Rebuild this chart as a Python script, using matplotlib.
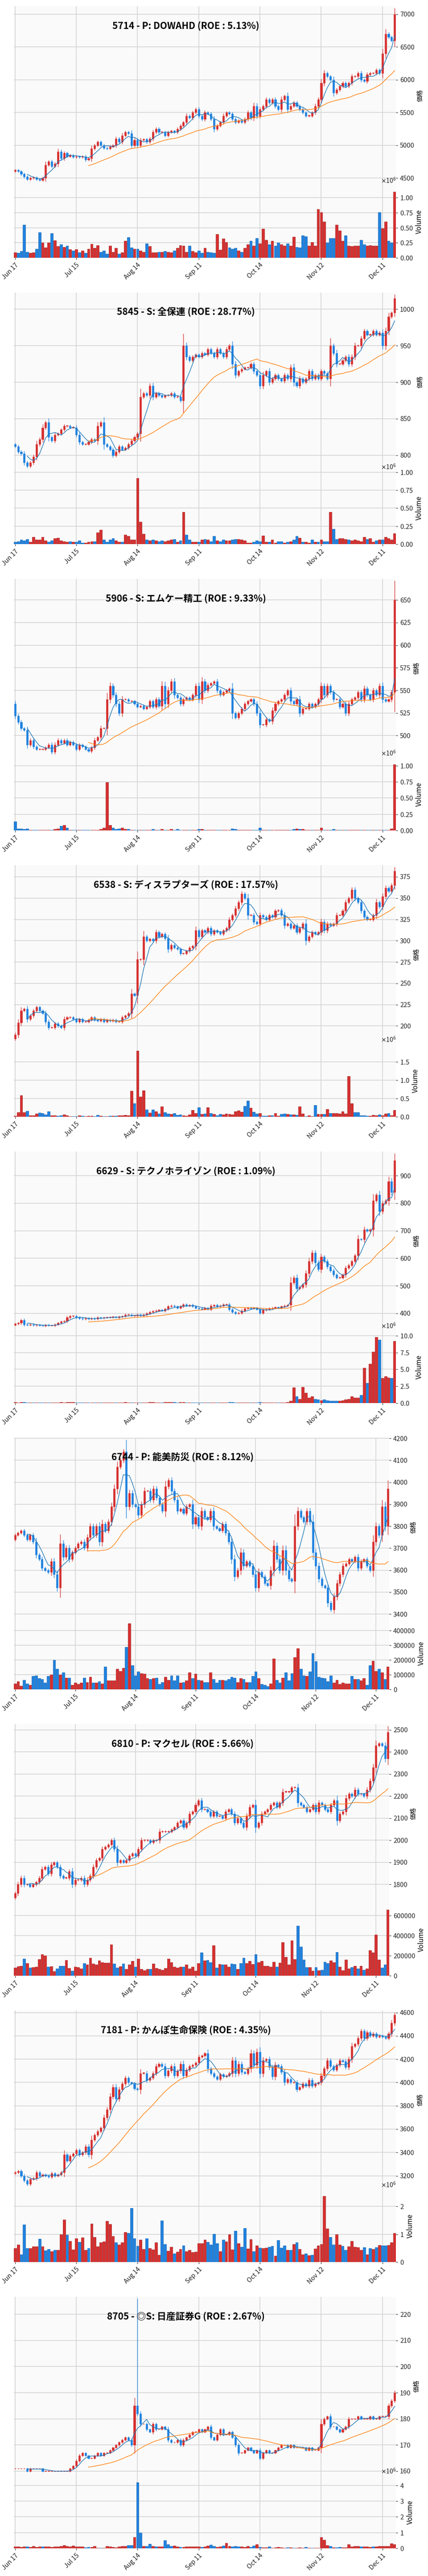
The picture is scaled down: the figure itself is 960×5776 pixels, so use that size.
import matplotlib
matplotlib.use("Agg")
import matplotlib.pyplot as plt
from matplotlib.ticker import ScalarFormatter
import numpy as np

plt.rcParams['font.family'] = ['Noto Sans CJK JP', 'DejaVu Sans']

TICK_POS = [0, 20, 40, 60, 80, 100, 120]
TICK_LABELS = ['Jun 17', 'Jul 15', 'Aug 14', 'Sep 11', 'Oct 14', 'Nov 12', 'Dec 11']

TITLES = [
    '5714 - P: DOWAHD (ROE : 5.13%)',
    '5845 - S: 全保連 (ROE : 28.77%)',
    '5906 - S: エムケー精工 (ROE : 9.33%)',
    '6538 - S: ディスラプターズ (ROE : 17.57%)',
    '6629 - S: テクノホライゾン (ROE : 1.09%)',
    '6744 - P: 能美防災 (ROE : 8.12%)',
    '6810 - P: マクセル (ROE : 5.66%)',
    '7181 - P: かんぽ生命保険 (ROE : 4.35%)',
    '8705 - ◎S: 日産証券G (ROE : 2.67%)',
]
OPEN0 = [4600, 815, 535, 185, 358, 3740, 1740, 3220, 161]
# single long wick seen on 8705 (panel index, day index, high)
SPIKE_PANEL, SPIKE_DAY, SPIKE_HIGH = 8, 40, 226

close_5714 = [4620, 4600, 4560, 4520, 4480, 4500, 4510, 4480, 4470, 4500,
              4700, 4750, 4680, 4720, 4900, 4800, 4880, 4830, 4850, 4820,
              4830, 4820, 4830, 4780, 4800, 4950, 5000, 5050, 5000, 4960,
              4950, 4980, 5000, 5100, 5050, 5150, 5200, 5180, 5000, 5080,
              5000, 5080, 5090, 5050, 5100, 5200, 5250, 5200, 5200, 5150,
              5200, 5220, 5200, 5250, 5300, 5350, 5450, 5420, 5500, 5550,
              5450, 5400, 5500, 5480, 5400, 5250, 5300, 5350, 5450, 5500,
              5480, 5400, 5350, 5380, 5350, 5400, 5500, 5420, 5600, 5450,
              5550, 5600, 5700, 5650, 5700, 5600, 5550, 5700, 5750, 5550,
              5600, 5650, 5600, 5550, 5500, 5450, 5450, 5500, 5600, 5700,
              5950, 6100, 6050, 6000, 5800, 5850, 5900, 5950, 5900, 5950,
              6050, 6050, 6100, 6000, 5980, 6080, 6100, 6100, 6150, 6100,
              6400, 6700, 6650, 6600, 7000]
vol_5714 = [.09, .08, .11, .55, .1, .08, .09, .15, .42, .25,
            .17, .25, .41, .29, .19, .22, .18, .2, .14, .12,
            .14, .09, .12, .08, .15, .23, .16, .21, .1, .12,
            .07, .2, .1, .16, .07, .09, .28, .34, .17, .15,
            .15, .12, .1, .24, .19, .09, .09, .1, .1, .11,
            .1, .09, .12, .16, .21, .2, .1, .2, .11, .09,
            .12, .08, .16, .1, .09, .08, .39, .13, .32, .26,
            .17, .15, .16, .12, .1, .16, .22, .28, .2, .33,
            .24, .48, .3, .22, .28, .2, .25, .22, .2, .24,
            .2, .35, .18, .17, .37, .36, .2, .26, .2, .81,
            .76, .6, .25, .33, .33, .55, .45, .28, .37, .2,
            .19, .2, .2, .3, .22, .2, .21, .2, .2, .76,
            .49, .6, .28, .25, 1.1]

close_5845 = [812, 805, 802, 790, 785, 790, 798, 815, 822, 838,
              845, 825, 820, 828, 830, 835, 840, 840, 838, 838,
              828, 818, 815, 815, 818, 822, 820, 840, 845, 815,
              812, 808, 800, 805, 812, 808, 810, 815, 820, 825,
              830, 880, 885, 882, 895, 880, 885, 882, 880, 882,
              882, 885, 880, 880, 875, 950, 935, 930, 935, 938,
              935, 940, 938, 945, 940, 935, 945, 940, 935, 945,
              950, 925, 910, 915, 918, 920, 920, 925, 915, 910,
              895, 910, 915, 900, 905, 910, 905, 902, 910, 905,
              920, 900, 895, 905, 900, 905, 915, 905, 910, 905,
              915, 912, 905, 950, 940, 925, 925, 930, 935, 925,
              935, 950, 950, 960, 970, 965, 965, 970, 965, 968,
              950, 970, 990, 995, 1015]
vol_5845 = [.03, .04, .06, .05, .07, .03, .1, .06, .06, .1,
            .05, .03, .05, .08, .09, .05, .04, .03, .04, .03,
            .03, .05, .02, .02, .03, .04, .04, .16, .2, .06,
            .03, .06, .08, .05, .03, .03, .13, .11, .06, .06,
            .92, .31, .14, .06, .05, .06, .05, .04, .05, .04,
            .05, .06, .07, .03, .05, .45, .13, .06, .03, .03,
            .03, .06, .07, .06, .04, .11, .05, .04, .06, .05,
            .05, .06, .07, .07, .06, .05, .02, .02, .03, .05,
            .04, .12, .03, .03, .06, .02, .04, .04, .02, .03,
            .04, .06, .11, .09, .03, .03, .02, .06, .03, .03,
            .06, .04, .04, .45, .21, .07, .08, .08, .07, .06,
            .05, .06, .05, .04, .1, .07, .08, .03, .05, .06,
            .06, .1, .08, .06, .15]

close_5906 = [522, 515, 508, 506, 490, 495, 488, 485, 485, 485,
              487, 490, 482, 490, 495, 492, 495, 490, 493, 490,
              485, 490, 488, 485, 483, 487, 495, 498, 508, 508,
              540, 555, 545, 535, 525, 540, 540, 538, 538, 535,
              532, 533, 530, 532, 538, 532, 540, 533, 555, 535,
              550, 560, 545, 542, 535, 540, 542, 540, 545, 555,
              540, 560, 550, 556, 558, 560, 550, 545, 548, 550,
              552, 525, 520, 525, 530, 535, 538, 540, 535, 525,
              512, 512, 518, 516, 528, 535, 538, 540, 545, 550,
              538, 535, 540, 525, 530, 530, 535, 532, 535, 540,
              555, 545, 555, 548, 540, 540, 532, 535, 525, 535,
              540, 542, 548, 540, 552, 545, 540, 550, 545, 555,
              540, 538, 540, 548, 650]
vol_5906 = [.14, .03, .03, .02, .03, .01, .01, .01, .01, .01,
            .01, .01, .01, .02, .03, .07, .08, .04, .01, .01,
            .01, .01, .01, .01, .01, .01, .01, .01, .02, .04,
            .74, .08, .04, .02, .03, .04, .02, .02, .01, .01,
            .01, .01, .01, .01, .01, .02, .01, .01, .02, .01,
            .01, .02, .01, .02, .01, .01, .01, .01, .01, .01,
            .02, .02, .01, .01, .01, .01, .01, .01, .01, .01,
            .01, .03, .02, .01, .01, .01, .01, .01, .01, .01,
            .04, .01, .01, .01, .01, .01, .01, .01, .01, .01,
            .01, .02, .03, .02, .02, .01, .01, .01, .01, .01,
            .04, .01, .01, .01, .02, .01, .01, .01, .01, .01,
            .01, .01, .01, .01, .01, .01, .01, .01, .01, .01,
            .01, .01, .01, .03, 1.02]

close_6538 = [190, 204, 218, 220, 208, 212, 218, 222, 218, 215,
              205, 198, 198, 203, 200, 198, 208, 210, 210, 208,
              205, 208, 205, 205, 207, 210, 207, 206, 208, 205,
              207, 206, 207, 205, 205, 210, 212, 215, 238, 236,
              278, 278, 305, 300, 302, 300, 310, 305, 308, 303,
              290, 295, 292, 290, 285, 285, 288, 292, 294, 312,
              305, 312, 310, 315, 308, 312, 310, 308, 312, 315,
              325, 330, 338, 345, 355, 350, 330, 330, 322, 320,
              330, 328, 325, 330, 328, 335, 336, 330, 318, 320,
              315, 318, 310, 315, 320, 300, 305, 310, 308, 310,
              322, 312, 320, 318, 320, 330, 330, 335, 345, 350,
              360, 350, 345, 335, 328, 325, 325, 330, 345, 340,
              352, 362, 358, 365, 382]
vol_6538 = [.02, .12, .58, .12, .16, .04, .04, .09, .11, .1,
            .06, .15, .04, .04, .03, .04, .06, .04, .01, .01,
            .01, .04, .02, .01, .02, .02, .01, .05, .03, .01,
            .01, .03, .03, .03, .04, .04, .05, .04, .7, .36,
            1.8, .55, .72, .2, .11, .19, .15, .08, .28, .12,
            .08, .07, .1, .05, .06, .04, .03, .06, .18, .1,
            .25, .07, .08, .25, .1, .07, .04, .07, .06, .08,
            .07, .06, .15, .17, .13, .29, .44, .24, .13, .08,
            .1, .02, .03, .04, .04, .1, .03, .07, .09, .07,
            .06, .06, .05, .28, .09, .01, .04, .01, .31, .07,
            .07, .07, .21, .1, .1, .1, .09, .14, .09, 1.1,
            .36, .12, .12, .04, .04, .02, .03, .05, .04, .06,
            .04, .08, .1, .04, .18]

close_6629 = [362, 365, 375, 360, 358, 360, 357, 358, 356, 355,
              358, 356, 356, 360, 365, 370, 372, 385, 390, 390,
              385, 382, 380, 382, 380, 382, 380, 385, 383, 385,
              385, 386, 386, 385, 388, 390, 395, 395, 392, 392,
              395, 392, 395, 400, 405, 408, 410, 412, 410, 416,
              425, 428, 425, 420, 426, 432, 428, 430, 425, 420,
              418, 415, 420, 415, 428, 430, 425, 428, 432, 432,
              415, 405, 400, 402, 410, 418, 420, 418, 420, 415,
              402, 412, 415, 418, 420, 422, 420, 425, 428, 430,
              512, 530, 490, 495, 505, 545, 590, 620, 585, 560,
              605, 590, 570, 555, 540, 530, 530, 540, 565, 575,
              590, 610, 670, 668, 705, 700, 705, 810, 830, 770,
              800, 810, 880, 840, 955]
vol_6629 = [.1, .08, .15, .1, .06, .05, .05, .05, .05, .05,
            .06, .05, .05, .06, .08, .1, .08, .1, .12, .1,
            .08, .06, .05, .05, .05, .06, .05, .06, .05, .05,
            .05, .06, .05, .05, .06, .08, .1, .08, .06, .06,
            .05, .05, .06, .08, .1, .1, .08, .08, .06, .1,
            .15, .12, .1, .08, .1, .12, .08, .08, .06, .06,
            .06, .05, .06, .06, .08, .08, .06, .06, .06, .08,
            .12, .1, .08, .06, .06, .08, .06, .06, .06, .06,
            .1, .08, .06, .06, .06, .08, .06, .08, .08, .1,
            .3, 2.3, 1.0, .6, 2.4, 1.5, .8, 1.0, .6, .5,
            .4, .5, .4, .3, .3, .3, .3, .4, .5, .6,
            1.0, .8, .8, 1.2, 5.2, 3.0, 5.8, 7.6, 9.8, 9.4,
            3.7, 4.0, 3.8, 3.7, 9.2]

close_6744 = [3760, 3770, 3780, 3760, 3740, 3760, 3730, 3670, 3650, 3610,
              3600, 3590, 3640, 3580, 3520, 3720, 3660, 3700, 3650, 3680,
              3700, 3720, 3730, 3700, 3750, 3800, 3760, 3800, 3730, 3810,
              3780, 3820, 3890, 3970, 4070, 4100, 4140, 3890, 3950, 3900,
              3890, 3850, 3900, 3960, 3960, 3920, 3970, 3930, 3900, 3870,
              3980, 4010, 3960, 3920, 3870, 3880, 3860, 3890, 3900, 3810,
              3840, 3800, 3870, 3840, 3830, 3870, 3800, 3790, 3780, 3810,
              3770, 3730, 3650, 3570, 3600, 3680, 3620, 3640, 3620, 3580,
              3520, 3590, 3570, 3540, 3530, 3600, 3710, 3650, 3600, 3690,
              3600, 3560, 3550, 3800, 3870, 3840, 3820, 3870, 3820, 3680,
              3620, 3560, 3530, 3520, 3450, 3420, 3480, 3540, 3580, 3620,
              3630, 3650, 3640, 3660, 3610, 3640, 3650, 3620, 3600, 3730,
              3800, 3760, 3890, 3800, 3970]
vol_6744 = [40000, 55000, 25000, 65000, 40000, 30000, 90000, 95000, 75000, 70000,
            45000, 90000, 100000, 200000, 140000, 100000, 115000, 80000, 80000, 30000,
            45000, 35000, 45000, 80000, 50000, 85000, 45000, 45000, 55000, 40000,
            155000, 60000, 60000, 60000, 140000, 125000, 145000, 290000, 450000, 165000,
            95000, 120000, 110000, 105000, 75000, 70000, 75000, 80000, 35000, 50000,
            85000, 65000, 95000, 60000, 95000, 45000, 50000, 60000, 115000, 75000,
            105000, 65000, 60000, 50000, 50000, 115000, 70000, 45000, 65000, 65000,
            60000, 70000, 85000, 80000, 50000, 75000, 70000, 50000, 50000, 90000,
            120000, 75000, 35000, 30000, 20000, 40000, 210000, 65000, 45000, 80000,
            115000, 60000, 110000, 220000, 280000, 140000, 95000, 90000, 120000, 245000,
            190000, 85000, 80000, 75000, 55000, 95000, 45000, 65000, 35000, 45000,
            40000, 40000, 90000, 70000, 70000, 60000, 75000, 30000, 165000, 195000,
            125000, 140000, 115000, 70000, 155000]

close_6810 = [1760, 1800, 1830, 1800, 1800, 1790, 1800, 1810, 1830, 1870,
              1880, 1850, 1890, 1900, 1880, 1840, 1830, 1830, 1860, 1800,
              1820, 1820, 1830, 1800, 1820, 1840, 1880, 1910, 1920, 1960,
              1970, 1980, 2000, 1960, 1900, 1910, 1900, 1910, 1930, 1940,
              1930, 1960, 2000, 2000, 2000, 1990, 2000, 2000, 2040, 2040,
              2040, 2040, 2050, 2060, 2080, 2090, 2060, 2080, 2120, 2130,
              2160, 2180, 2140, 2140, 2130, 2110, 2130, 2110, 2110, 2100,
              2130, 2140, 2120, 2080, 2100, 2080, 2060, 2110, 2150, 2160,
              2060, 2080, 2120, 2130, 2140, 2160, 2170, 2150, 2170, 2220,
              2220, 2220, 2240, 2240, 2170, 2160, 2150, 2130, 2140, 2160,
              2130, 2170, 2160, 2140, 2130, 2160, 2180, 2090, 2120, 2130,
              2190, 2210, 2200, 2230, 2210, 2210, 2200, 2230, 2270, 2330,
              2430, 2440, 2430, 2370, 2490]
vol_6810 = [80000, 95000, 100000, 170000, 125000, 80000, 85000, 90000, 165000, 215000,
            200000, 90000, 95000, 45000, 70000, 100000, 100000, 155000, 75000, 50000,
            90000, 85000, 70000, 125000, 110000, 180000, 120000, 110000, 150000, 135000,
            130000, 130000, 310000, 120000, 80000, 95000, 120000, 65000, 110000, 145000,
            90000, 170000, 65000, 55000, 65000, 65000, 120000, 75000, 65000, 60000,
            75000, 170000, 135000, 90000, 80000, 90000, 90000, 110000, 70000, 90000,
            50000, 125000, 230000, 150000, 155000, 135000, 305000, 80000, 115000, 110000,
            110000, 90000, 120000, 115000, 65000, 125000, 180000, 125000, 145000, 115000,
            215000, 135000, 145000, 100000, 100000, 90000, 140000, 90000, 130000, 335000,
            185000, 110000, 350000, 165000, 500000, 290000, 160000, 85000, 85000, 50000,
            85000, 55000, 60000, 140000, 125000, 150000, 135000, 235000, 90000, 55000,
            160000, 70000, 85000, 100000, 70000, 100000, 60000, 70000, 255000, 230000,
            410000, 160000, 80000, 110000, 660000]

close_7181 = [3230, 3240, 3200, 3160, 3130, 3170, 3180, 3230, 3200, 3210,
              3200, 3190, 3220, 3200, 3210, 3230, 3380, 3330, 3370, 3390,
              3420, 3380, 3400, 3450, 3380, 3510, 3550, 3580, 3610, 3700,
              3770, 3880, 3960, 3860, 3940, 3990, 4040, 4000, 3990, 3950,
              3940, 4080, 4080, 4020, 4040, 4080, 4140, 4160, 4140, 4060,
              4100, 4140, 4060, 4100, 4160, 4060, 4110, 4140, 4150, 4170,
              4220, 4230, 4250, 4120, 4080, 4050, 4030, 4070, 4050, 4060,
              4080, 4190, 4080, 4160, 4090, 4080, 4120, 4250, 4150, 4260,
              4080, 4190, 4200, 4130, 4050, 4150, 4140, 4090, 4000, 4030,
              4000, 4000, 3940, 3960, 3990, 3970, 4020, 3970, 3990, 4000,
              4060, 4120, 4190, 4140, 4110, 4150, 4190, 4180, 4130, 4200,
              4310, 4330, 4380, 4440, 4380, 4430, 4400, 4420, 4390, 4400,
              4390, 4380, 4420, 4510, 4580]
vol_7181 = [.5, .62, .27, 1.35, .5, .5, .57, .56, .84, .57,
            .42, .46, .39, .44, .43, .99, 1.53, .98, .75, .45,
            .85, .73, .89, .43, .5, 1.38, .9, .57, .7, .74,
            1.48, 1.36, .93, .7, .63, .7, 1.07, 1.05, 1.95, .85,
            .58, .8, .46, .85, .5, .45, .7, .25, 1.5, .65,
            .4, .55, .31, .37, .46, .59, .39, .43, .35, .37,
            .67, .67, .81, .73, .63, 1.01, .68, .38, .81, .74,
            1.0, .45, 1.12, .68, .55, 1.22, .48, .82, .38, .6,
            .52, .5, .52, .55, .58, .23, .78, .52, .6, .44,
            .44, .64, .71, .46, .27, .3, .24, .25, .48, .6,
            .65, 2.38, 1.2, .9, .62, 1.0, .63, .58, .43, .56,
            .75, .55, .53, .43, .53, .27, .5, .46, .53, .61,
            .6, .6, .61, .71, 1.05]

close_8705 = [161, 161, 161, 161, 160, 161, 161, 161, 161, 160,
              160, 160, 160, 160, 160, 160, 160, 160, 161, 162,
              164, 166, 167, 166, 165, 165, 166, 167, 166, 167,
              167, 168, 169, 170, 171, 172, 173, 172, 170, 185,
              182, 178, 178, 176, 175, 178, 176, 176, 177, 176,
              172, 171, 171, 172, 170, 172, 173, 174, 175, 175,
              176, 175, 176, 177, 173, 172, 174, 176, 174, 174,
              175, 173, 170, 167, 167, 168, 169, 168, 167, 168,
              165, 167, 168, 167, 167, 168, 169, 170, 170, 169,
              170, 169, 169, 169, 169, 168, 169, 168, 168, 169,
              178, 180, 181, 177, 177, 176, 175, 176, 177, 180,
              180, 180, 181, 180, 180, 180, 181, 180, 180, 181,
              181, 181, 185, 187, 190]
vol_8705 = [.1, .12, .08, .12, .1, .08, .14, .08, .1, .1,
            .1, .1, .08, .12, .12, .14, .2, .14, .1, .18,
            .1, .12, .12, .05, .08, .08, .14, .04, .04, .04,
            .15, .1, .08, .06, .1, .15, .15, .2, .2, .7,
            4.2, 1.0, .15, .15, .28, .15, .12, .1, .12, .5,
            .25, .15, .18, .12, .08, .08, .1, .1, .12, .1,
            .1, .08, .1, .18, .22, .15, .08, .1, .18, .35,
            .15, .12, .15, .12, .1, .08, .15, .08, .18, .25,
            .08, .06, .06, .12, .04, .05, .08, .06, .04, .06,
            .05, .03, .03, .05, .03, .08, .03, .02, .02, .02,
            .72, .55, .2, .15, .05, .05, .08, .05, .05, .25,
            .1, .14, .15, .12, .1, .12, .08, .12, .12, .15,
            .15, .15, .15, .3, .25]

# volumes typed in millions for most panels
VOL_SCALE = [1e6, 1e6, 1e6, 1e6, 1e6, 1, 1, 1e6, 1e6]

CLOSES = [close_5714, close_5845, close_5906, close_6538, close_6629,
          close_6744, close_6810, close_7181, close_8705]
VOLUMES = [vol_5714, vol_5845, vol_5906, vol_6538, vol_6629,
           vol_6744, vol_6810, vol_7181, vol_8705]

UP = '#d62f2f'
DOWN = '#1f82e0'
UP_EDGE = '#9e2020'
DOWN_EDGE = '#1860a8'
FIG_W, FIG_H = 960, 5776
PANEL_H = 642


def moving_avg(c, n):
    c = np.asarray(c, float)
    out = np.full(len(c), np.nan)
    for i in range(n - 1, len(c)):
        out[i] = c[i - n + 1:i + 1].mean()
    return out


def style_ax(ax):
    ax.set_facecolor('#fafafa')
    ax.grid(True, color='#d4d4d4', linewidth=1.2)
    ax.set_axisbelow(True)
    for s in ax.spines.values():
        s.set_visible(False)
    ax.yaxis.tick_right()
    ax.yaxis.set_label_position('right')
    ax.tick_params(axis='both', labelsize=10.5, colors='#222222', length=3)


fig = plt.figure(figsize=(FIG_W / 100, FIG_H / 100), dpi=100)

for k in range(9):
    c = np.asarray(CLOSES[k], float)
    v = np.asarray(VOLUMES[k], float) * VOL_SCALE[k]
    n = min(len(c), len(v))
    c, v = c[:n], v[:n]
    o = np.concatenate([[OPEN0[k]], c[:-1]])
    x = np.arange(n)
    rng = c.max() - c.min()
    hi = np.maximum(o, c) + 0.2 * np.abs(c - o) + rng * 0.006
    lo = np.minimum(o, c) - 0.2 * np.abs(c - o) - rng * 0.006
    if k == SPIKE_PANEL:
        hi[SPIKE_DAY] = SPIKE_HIGH
    up = c >= o
    cols = np.where(up, UP, DOWN)
    ecols = np.where(up, UP_EDGE, DOWN_EDGE)

    right = 873 if k in (5, 6) else 888
    left = 31
    top = k * PANEL_H + 14
    pbot = k * PANEL_H + 415
    vbot = k * PANEL_H + 578
    w = (right - left) / FIG_W
    axp = fig.add_axes([left / FIG_W, 1 - pbot / FIG_H, w, (pbot - top) / FIG_H])
    axv = fig.add_axes([left / FIG_W, 1 - vbot / FIG_H, w, (vbot - pbot) / FIG_H], sharex=axp)
    style_ax(axp)
    style_ax(axv)

    axp.vlines(x, lo, hi, colors=cols, linewidth=0.9)
    body = np.where(np.abs(c - o) < rng * 0.003, rng * 0.003, c - o)
    axp.bar(x, body, bottom=o, width=0.6, color=cols, edgecolor=cols, linewidth=0.5)
    axp.plot(x, moving_avg(c, 5), color='#1f77b4', linewidth=1.0)
    axp.plot(x, moving_avg(c, 25), color='#ff7f0e', linewidth=1.0)
    pr = hi.max() - lo.min()
    axp.set_ylim(lo.min() - 0.02 * pr, hi.max() + 0.01 * pr)
    axp.set_ylabel('価格', fontsize=10)
    axp.text(0.45, 0.89, TITLES[k], transform=axp.transAxes, ha='center', va='center',
             fontsize=15, fontweight='bold')
    plt.setp(axp.get_xticklabels(), visible=False)

    axv.bar(x, v, width=0.85, color=cols, edgecolor=ecols, linewidth=0.5)
    axv.set_ylim(0, v.max() * 1.1)
    axv.set_ylabel('Volume', fontsize=11)
    if VOL_SCALE[k] != 1:
        fmt = ScalarFormatter(useMathText=True)
        fmt.set_powerlimits((6, 6))
        axv.yaxis.set_major_formatter(fmt)
    axv.set_xlim(-0.4, n - 0.6)
    axv.set_xticks(TICK_POS)
    axv.set_xticklabels(TICK_LABELS, rotation=45, ha='right', rotation_mode='anchor')
    axv.tick_params(axis='x', labelsize=10.5)

fig.savefig('out.png', dpi=100, facecolor='white')
